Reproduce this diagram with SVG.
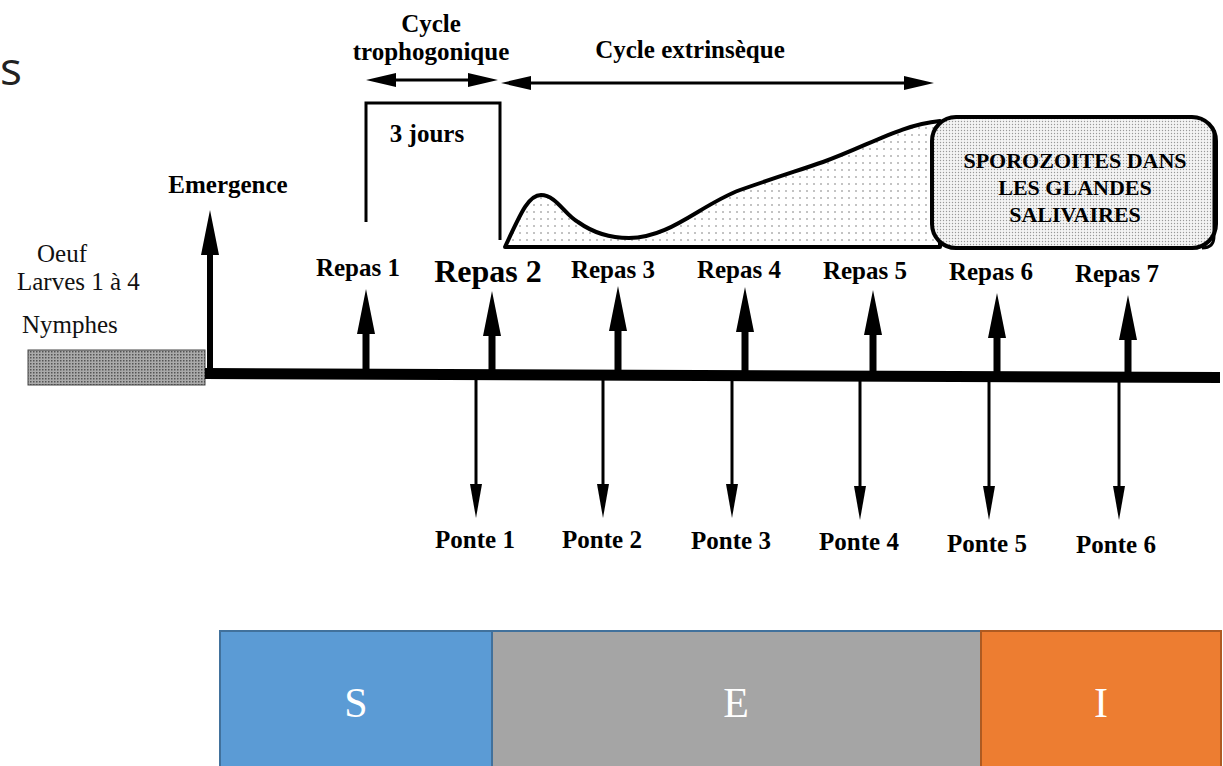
<svg xmlns="http://www.w3.org/2000/svg" width="1223" height="766" viewBox="0 0 1223 766">
<style>
.b{font-family:"Liberation Serif","Times New Roman",serif;font-weight:bold;font-size:25px;fill:#000;text-anchor:middle}
.r{font-family:"Liberation Serif","Times New Roman",serif;font-size:25px;fill:#111}
.sei{font-family:"Liberation Serif","Times New Roman",serif;font-size:42px;fill:#fff;text-anchor:middle}
.arr{fill:#000;stroke:none}
.thin{stroke:#000;stroke-width:3;fill:none}
</style>
<defs>
<pattern id="dots" width="7" height="7" patternUnits="userSpaceOnUse">
<rect width="7" height="7" fill="#fff"/>
<circle cx="2" cy="2" r="0.8" fill="#777"/>
</pattern>
<pattern id="dense" width="3" height="3" patternUnits="userSpaceOnUse">
<rect width="3" height="3" fill="#f4f4f4"/>
<circle cx="1.5" cy="1.5" r="0.7" fill="#999"/>
</pattern>
<pattern id="dark" width="3" height="3" patternUnits="userSpaceOnUse">
<rect width="3" height="3" fill="#aaa"/>
<rect width="1.5" height="1.5" fill="#555"/>
</pattern>
</defs>
<rect width="1223" height="766" fill="#fff"/>
<text x="0" y="85" style="font-family:'Open Sans','Liberation Sans',sans-serif;font-size:46px;fill:#222">s</text>

<g id="header">
<text class="b" x="431" y="32">Cycle</text>
<text class="b" x="431" y="60">trophogonique</text>
<text class="b" x="690" y="58">Cycle extrinsèque</text>
</g>

<g id="bracket">
<path d="M366,222 V103 H500 V240" class="thin"/>
<text class="b" x="427" y="142">3 jours</text>
</g>

<g id="infection-curve">
<path d="M505,247 C520,215 528,195 541,195 C556,195 565,215 578,222 C592,232 610,238 629,238 C670,238 700,205 740,190 C780,176 800,170 823,162 C870,145 900,125 940,121 L940,247 Z" fill="url(#dots)" stroke="#000" stroke-width="4" stroke-linejoin="round"/>
</g>

<g id="sporozoites">
<rect x="932" y="117" width="284" height="131" rx="24" fill="url(#dense)" stroke="#000" stroke-width="4"/>
<path d="M1214,130 V236 Q1214,248 1202,248" fill="none" stroke="#000" stroke-width="3"/>
<text class="b" x="1075" y="168" style="font-size:22px">SPOROZOITES DANS</text>
<text class="b" x="1075" y="195" style="font-size:22px">LES GLANDES</text>
<text class="b" x="1075" y="222" style="font-size:22px">SALIVAIRES</text>
</g>

<g id="stages">
<rect x="28" y="350" width="177" height="35" fill="url(#dark)" stroke="#444" stroke-width="1"/>
<text class="r" x="37" y="262">Oeuf</text>
<text class="r" x="17" y="290">Larves 1 à 4</text>
<text class="r" x="22" y="333">Nymphes</text>
</g>

<g id="labels-repas">
<text class="b" x="228" y="193">Emergence</text>
<text class="b" x="358" y="276">Repas 1</text>
<text class="b" x="488" y="282" style="font-size:32px">Repas 2</text>
<text class="b" x="613" y="278">Repas 3</text>
<text class="b" x="739" y="278">Repas 4</text>
<text class="b" x="865" y="279">Repas 5</text>
<text class="b" x="991" y="280">Repas 6</text>
<text class="b" x="1117" y="282">Repas 7</text>
</g>

<g id="labels-ponte">
<text class="b" x="475" y="548">Ponte 1</text>
<text class="b" x="602" y="548">Ponte 2</text>
<text class="b" x="731" y="549">Ponte 3</text>
<text class="b" x="859" y="550">Ponte 4</text>
<text class="b" x="987" y="552">Ponte 5</text>
<text class="b" x="1116" y="553">Ponte 6</text>
</g>

<g id="connectors">
<path d="M205,368 L1220,372 L1220,383 L205,379 Z" class="arr"/>
<line x1="385" y1="80" x2="480" y2="80" stroke="#000" stroke-width="3"/>
<path class="arr" d="M366,80 L396,73 L396,87 Z M498,80 L468,73 L468,87 Z"/>
<line x1="520" y1="83" x2="915" y2="83" stroke="#000" stroke-width="3"/>
<path class="arr" d="M501,83 L531,76 L531,90 Z M934,83 L904,76 L904,90 Z"/>
<path class="arr" d="M207,374 V255 H201 L210,210 L219,255 H213 V374 Z"/>
<path class="arr" d="M362.5,374 V334 H357 L366,289 L375,334 H369.5 V374 Z"/>
<path class="arr" d="M488.5,374 V336 H483 L492,291 L501,336 H495.5 V374 Z"/>
<path class="arr" d="M614.5,374 V331 H609 L618,286 L627,331 H621.5 V374 Z"/>
<path class="arr" d="M741.5,375 V332 H736 L745,287 L754,332 H748.5 V375 Z"/>
<path class="arr" d="M869.5,375 V335 H864 L873,290 L882,335 H876.5 V375 Z"/>
<path class="arr" d="M993.5,376 V338 H988 L997,293 L1006,338 H1000.5 V376 Z"/>
<path class="arr" d="M1124.5,376 V340 H1119 L1128,295 L1137,340 H1131.5 V376 Z"/>
<line class="thin" x1="476" y1="378" x2="476" y2="490"/>
<path class="arr" d="M470,484 L482,484 L476,518 Z"/>
<line class="thin" x1="603" y1="378" x2="603" y2="490"/>
<path class="arr" d="M597,484 L609,484 L603,518 Z"/>
<line class="thin" x1="732" y1="378" x2="732" y2="490"/>
<path class="arr" d="M726,484 L738,484 L732,518 Z"/>
<line class="thin" x1="860" y1="379" x2="860" y2="492"/>
<path class="arr" d="M854,486 L866,486 L860,520 Z"/>
<line class="thin" x1="989" y1="380" x2="989" y2="492"/>
<path class="arr" d="M983,486 L995,486 L989,520 Z"/>
<line class="thin" x1="1119" y1="380" x2="1119" y2="492"/>
<path class="arr" d="M1113,486 L1125,486 L1119,520 Z"/>
</g>

<g id="sei">
<g id="S">
<rect x="220" y="631" width="272" height="140" fill="#5B9BD5" stroke="#41719C" stroke-width="2"/>
<text class="sei" x="356" y="717">S</text>
</g>
<g id="E">
<rect x="492" y="631" width="489" height="140" fill="#A5A5A5" stroke="#41719C" stroke-width="2"/>
<text class="sei" x="736" y="717">E</text>
</g>
<g id="I">
<rect x="981" y="631" width="240" height="140" fill="#ED7D31" stroke="#AE5A21" stroke-width="2"/>
<text class="sei" x="1101" y="717">I</text>
</g>
</g>
</svg>
